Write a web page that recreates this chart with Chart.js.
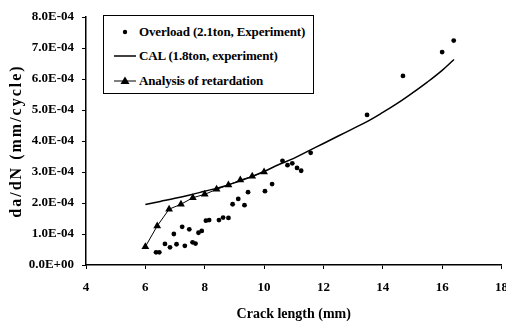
<!DOCTYPE html>
<html>
<head>
<meta charset="utf-8">
<script src="https://cdn.jsdelivr.net/npm/chart.js@4/dist/chart.umd.min.js"></script>
<style>
  body { margin: 0; background: #fff; }
  #wrap { position: relative; width: 506px; height: 327px; }
  #legend {
    position: absolute; left: 103px; top: 15px; width: 209px; height: 77px;
    border: 1.5px solid #000; background: #fff;
    font: bold 13px "Liberation Serif", "Times New Roman", serif; color: #000;
  }
  .row { position: absolute; left: 0; height: 20px; line-height: 20px; white-space: nowrap; }
  .row svg { position: absolute; left: 9px; top: 2px; }
  .row span { position: absolute; left: 35px; letter-spacing: -0.15px; }
</style>
</head>
<body>
<div id="wrap">
  <canvas id="chart" width="506" height="327"></canvas>
  <div id="legend">
    <div class="row" style="top:6px"><svg width="24" height="16"><circle cx="12" cy="8" r="2.2" fill="#000"/></svg><span>Overload (2.1ton, Experiment)</span></div>
    <div class="row" style="top:30px"><svg width="24" height="16"><line x1="1" y1="8" x2="23" y2="8" stroke="#000" stroke-width="1.5"/></svg><span>CAL (1.8ton, experiment)</span></div>
    <div class="row" style="top:55px"><svg width="24" height="16"><line x1="1" y1="8" x2="23" y2="8" stroke="#000" stroke-width="1"/><polygon points="12,3.5 16.5,11 7.5,11" fill="#000"/></svg><span>Analysis of retardation</span></div>
  </div>
</div>
<script>
// crack length (mm) and da/dN (mm/cycle)
const overloadX = [6.36, 6.47, 6.66, 6.83, 6.96, 7.05, 7.24, 7.33, 7.48, 7.59, 7.69, 7.79, 7.9,
  8.04, 8.15, 8.48, 8.62, 8.8, 8.94, 9.13, 9.34, 9.46, 10.03, 10.27, 10.62, 10.79, 10.95,
  11.11, 11.25, 11.57, 13.47, 14.68, 16.0, 16.39];
const overloadY = [0.41e-4, 0.41e-4, 0.68e-4, 0.57e-4, 1.0e-4, 0.67e-4, 1.23e-4, 0.62e-4, 1.15e-4,
  0.73e-4, 0.69e-4, 1.04e-4, 1.1e-4, 1.43e-4, 1.45e-4, 1.45e-4, 1.53e-4, 1.52e-4, 1.96e-4,
  2.13e-4, 1.93e-4, 2.35e-4, 2.38e-4, 2.61e-4, 3.36e-4, 3.22e-4, 3.28e-4, 3.13e-4, 3.04e-4,
  3.62e-4, 4.84e-4, 6.1e-4, 6.87e-4, 7.24e-4];

const calX = [6, 6.5, 7, 7.5, 8, 8.5, 9, 9.5, 10, 10.5, 11, 11.5, 12, 12.5, 13, 13.5, 14, 14.5,
  15, 15.5, 16, 16.4];
const calY = [1.95e-4, 2.05e-4, 2.15e-4, 2.26e-4, 2.38e-4, 2.5e-4, 2.65e-4, 2.82e-4, 3.02e-4,
  3.24e-4, 3.44e-4, 3.68e-4, 3.92e-4, 4.16e-4, 4.4e-4, 4.64e-4, 4.92e-4, 5.22e-4, 5.55e-4,
  5.9e-4, 6.28e-4, 6.63e-4];

const retardX = [6.0, 6.4, 6.8, 7.2, 7.6, 8.0, 8.4, 8.8, 9.2, 9.6, 10.0];
const retardY = [0.59e-4, 1.26e-4, 1.8e-4, 1.96e-4, 2.17e-4, 2.28e-4, 2.44e-4, 2.58e-4, 2.74e-4,
  2.86e-4, 3.0e-4];

const xTicks = [4, 6, 8, 10, 12, 14, 16, 18];
const yTitle = 'da/dN (mm/cycle)';

function pts(xs, ys) {
  return xs.map((x, i) => ({ x: x, y: ys[i] }));
}

function sci(v) {
  if (v === 0) return '0.0E+00';
  let [m, e] = v.toExponential(1).toUpperCase().split('E');
  const sign = e[0] === '-' ? '-' : '+';
  e = e.replace(/[+-]/, '');
  return m + 'E' + sign + e.padStart(2, '0');
}

const family = '"Liberation Serif", "Times New Roman", serif';
const font = { family: family, weight: 'bold', size: 13 };

// y title drawn by hand so it can be spaced out like the original
const yTitlePlugin = {
  id: 'yTitle',
  afterDraw(chart) {
    const c = chart.ctx;
    const area = chart.chartArea;
    c.save();
    c.translate(17, (area.top + area.bottom) / 2);
    c.rotate(-Math.PI / 2);
    c.font = 'bold 16px ' + family;
    c.letterSpacing = '2px';
    c.fillStyle = '#000';
    c.textAlign = 'center';
    c.textBaseline = 'middle';
    c.fillText(yTitle, 0, 0);
    c.restore();
  }
};

const ctx = document.getElementById('chart').getContext('2d');
new Chart(ctx, {
  type: 'scatter',
  data: {
    datasets: [{
      label: 'Overload (2.1ton, Experiment)',
      data: pts(overloadX, overloadY),
      pointRadius: 2.4,
      pointBackgroundColor: '#000',
      pointBorderWidth: 0,
      showLine: false
    }, {
      label: 'CAL (1.8ton, experiment)',
      data: pts(calX, calY),
      showLine: true,
      borderColor: '#000',
      borderWidth: 1.5,
      pointRadius: 0,
      tension: 0.4
    }, {
      label: 'Analysis of retardation',
      data: pts(retardX, retardY),
      showLine: true,
      borderColor: '#000',
      borderWidth: 1,
      pointStyle: 'triangle',
      pointRadius: 4.5,
      pointBackgroundColor: '#000',
      pointBorderColor: '#000',
      pointBorderWidth: 0
    }]
  },
  options: {
    responsive: false,
    animation: false,
    layout: { padding: { left: 0, right: 4, top: 17, bottom: 0 } },
    plugins: { legend: { display: false }, tooltip: { enabled: false } },
    scales: {
      x: {
        min: 4, max: 18,
        afterBuildTicks: s => { s.ticks = xTicks.map(v => ({ value: v })); },
        afterFit: s => { s.height = 62; s.paddingLeft = 0; s.paddingRight = 0; },
        grid: { drawOnChartArea: false, tickLength: 4, color: '#000' },
        border: { color: '#000', width: 1.5 },
        ticks: { color: '#000', font: font, padding: 11, maxRotation: 0 },
        title: { display: true, text: 'Crack length (mm)', color: '#000',
          font: { family: family, weight: 'bold', size: 14 }, padding: { top: 0, bottom: 4 } }
      },
      y: {
        min: 0, max: 8e-4,
        ticks: { stepSize: 1e-4, color: '#000', font: font, padding: 8, callback: v => sci(v) },
        afterFit: s => { s.width = 86; s.paddingTop = 0; s.paddingBottom = 0; },
        grid: { drawOnChartArea: false, tickLength: 4, color: '#000' },
        border: { color: '#000', width: 1.5 },
        title: { display: false }
      }
    }
  },
  plugins: [yTitlePlugin]
});
</script>
</body>
</html>
